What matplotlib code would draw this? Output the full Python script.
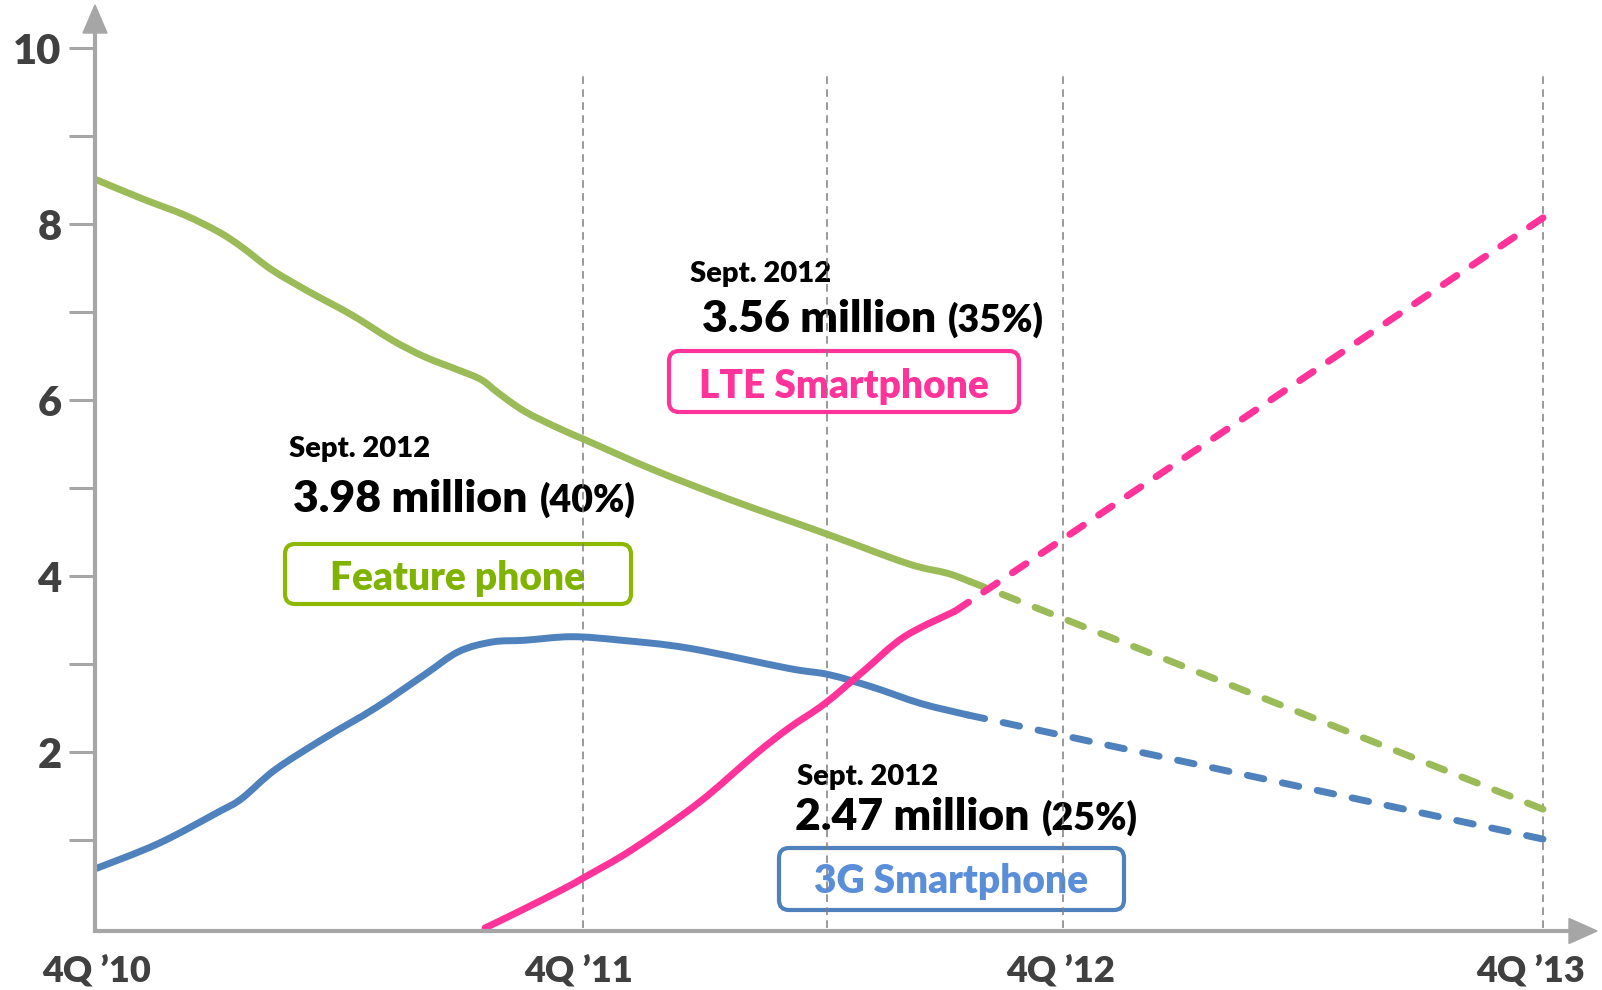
import matplotlib
matplotlib.use("Agg")
import numpy as np
import matplotlib.pyplot as plt
from matplotlib.patches import FancyBboxPatch, Polygon, PathPatch
from matplotlib.path import Path
from matplotlib.transforms import IdentityTransform, blended_transform_factory, offset_copy

plt.rcParams['font.family'] = ['Lato', 'DejaVu Sans']
plt.rcParams['font.weight'] = 'heavy'

# ---------------- data ----------------
quarter_ticks = [0, 4, 8, 12]
quarter_labels = ["4Q \u201910", "4Q \u201911", "4Q \u201912", "4Q \u201913"]
guide_quarters = [4.03, 6.06, 8.02, 12]

feature_x = [0.0, 0.37, 0.73, 1.01, 1.20, 1.45, 1.76, 2.11, 2.45, 2.72, 3.00, 3.19, 3.33,
             3.55, 3.83, 4.08, 4.63, 5.27, 6.07, 6.73, 7.06, 7.24]
feature_y = [8.50, 8.29, 8.10, 7.91, 7.74, 7.48, 7.23, 6.97, 6.68, 6.49, 6.34, 6.23, 6.08,
             5.87, 5.68, 5.53, 5.20, 4.86, 4.47, 4.14, 4.03, 3.94]
feature_fc_x = [7.24, 12]
feature_fc_y = [3.94, 1.35]

threeg_x = [0.0, 0.51, 1.01, 1.20, 1.48, 1.89, 2.31, 2.72, 3.00, 3.28, 3.55, 3.94, 4.35,
            4.91, 5.74, 6.07, 6.43, 6.84, 7.23]
threeg_y = [0.68, 0.96, 1.32, 1.47, 1.80, 2.16, 2.50, 2.88, 3.14, 3.25, 3.27, 3.31, 3.27,
            3.18, 2.95, 2.88, 2.74, 2.55, 2.42]
threeg_fc_x = [7.23, 12]
threeg_fc_y = [2.42, 1.01]

lte_x = [3.22, 3.52, 3.88, 4.05, 4.44, 4.99, 5.46, 5.74, 6.04, 6.37, 6.70, 7.12]
lte_y = [0.0, 0.20, 0.45, 0.58, 0.89, 1.42, 1.97, 2.27, 2.55, 2.93, 3.31, 3.60]
lte_fc_x = [7.12, 12]
lte_fc_y = [3.60, 8.07]

y_major = [2, 4, 6, 8, 10]
y_minor = [1, 3, 5, 7, 9]

GREEN = '#9bbb59'
BLUE = '#4f81bd'
PINK = '#ff3399'
AXC = '#a6a6a6'
TXT = '#404040'

W, H = 1602, 990
fig = plt.figure(figsize=(W / 100, H / 100), dpi=100)

# axes geometry (pixels of image)
AX_L = 95                 # y axis line
X0, Y0 = 97, 928          # data origin
QPX, UPX = 120.5, 88.0    # px per quarter, px per unit
XTIP, YTIP = 1597, 5
ax = fig.add_axes([AX_L / W, (H - Y0) / H, (XTIP - AX_L) / W, (Y0 - YTIP) / H])
xmin = (AX_L - X0) / QPX
xmax = (XTIP - X0) / QPX
ymax = (Y0 - YTIP) / UPX
ax.set_xlim(xmin, xmax)
ax.set_ylim(0, ymax)
for s in ax.spines.values():
    s.set_visible(False)

# axis lines with arrows
ya = -3 / UPX
xb = (1569 - X0) / QPX
yb = (Y0 - 33) / UPX
ax.plot([xmin, xb], [ya, ya], color=AXC, lw=3, solid_capstyle='butt', clip_on=False, zorder=5)
ax.plot([xmin, xmin], [ya - 1.5 / UPX, yb], color=AXC, lw=3, solid_capstyle='butt', clip_on=False, zorder=5)
ax.add_patch(Polygon([[xmax, ya], [xb, ya + 12.5 / UPX], [xb, ya - 12.5 / UPX]],
                     closed=True, color=AXC, clip_on=False, zorder=5))
ax.add_patch(Polygon([[xmin, ymax], [xmin - 12 / QPX, yb], [xmin + 12 / QPX, yb]],
                     closed=True, color=AXC, clip_on=False, zorder=5))

# y ticks
ax.set_yticks(y_major)
ax.set_yticklabels([str(v) for v in y_major])
ax.set_yticks(y_minor, minor=True)
ax.tick_params(axis='y', which='both', direction='out', length=19, width=2.2,
               color=AXC, labelsize=30, labelcolor=TXT, pad=5)
for lab in ax.get_yticklabels():
    lab.set_fontweight('heavy')

# x labels (drawn as text so the last one can sit inside the figure like the original)
ax.set_xticks([])
xlab_tr = blended_transform_factory(ax.transData, IdentityTransform())
for i, (q, lab) in enumerate(zip(quarter_ticks, quarter_labels)):
    dx = -12 if i == len(quarter_ticks) - 1 else 0
    tr = offset_copy(xlab_tr, fig=fig, x=dx, y=0, units='dots')
    ax.text(q, H - 982, lab, transform=tr, ha='center', va='baseline', fontsize=26,
            color=TXT, fontweight='heavy', clip_on=False)

# guide lines
ax.vlines(guide_quarters, 0, 9.68, colors='#7f7f7f', linestyles=(0, (5, 3.5)), lw=1.1, zorder=3)

# curves
LW = 5


def smooth_line(xs, ys, color):
    # smoothed line through the read points (cubic Bezier, Catmull-Rom tangents)
    P = np.column_stack([xs, ys]).astype(float)
    n = len(P)
    verts = [P[0]]
    codes = [Path.MOVETO]
    for i in range(n - 1):
        p0 = P[max(i - 1, 0)]
        p1 = P[i]
        p2 = P[i + 1]
        p3 = P[min(i + 2, n - 1)]
        c1 = p1 + (p2 - p0) / 6.0
        c2 = p2 - (p3 - p1) / 6.0
        verts += [c1, c2, p2]
        codes += [Path.CURVE4] * 3
    patch = PathPatch(Path(verts, codes), fill=False, ec=color, lw=LW,
                      capstyle='round', joinstyle='round', clip_on=False, zorder=4)
    ax.add_patch(patch)


def dashed(xs, ys, color, on=2.4, off=2.7):
    # fit the dash pattern so the forecast line both starts and ends on a dash
    p = ax.transData.transform(np.column_stack([xs, ys]))
    L = np.hypot(*(p[-1] - p[0])) * 72 / fig.dpi / LW
    n = max(1, round((L - on) / (on + off)))
    s = L / (n * (on + off) + on)
    ax.plot(xs, ys, color=color, lw=LW, dashes=(on * s, off * s), dash_capstyle='round',
            clip_on=False, zorder=4)


smooth_line(feature_x, feature_y, GREEN)
dashed(feature_fc_x, feature_fc_y, GREEN)
smooth_line(threeg_x, threeg_y, BLUE)
dashed(threeg_fc_x, threeg_fc_y, BLUE)
smooth_line(lte_x, lte_y, PINK)
dashed(lte_fc_x, lte_fc_y, PINK)

# annotations (pixel placement)
idt = IdentityTransform()
renderer = fig.canvas.get_renderer()


def ptext(x, y, s, **k):
    return ax.text(x, H - y, s, transform=idt, clip_on=False, zorder=2, fontweight='heavy', **k)


def value_label(x, y, big, small):
    t = ptext(x, y, big, fontsize=32, color='black', va='baseline', ha='left')
    bb = t.get_window_extent(renderer=renderer)
    ptext(bb.x1 + 12, y, small, fontsize=27, color='black', va='baseline', ha='left')


def box(x0, y0, x1, y1, ec, label, tc, base):
    p = FancyBboxPatch((x0 + 2, H - y1 + 2), (x1 - x0 - 4), (y1 - y0 - 4),
                       boxstyle='round,pad=0,rounding_size=10', transform=idt,
                       fill=False, ec=ec, lw=3, clip_on=False, zorder=2)
    ax.add_patch(p)
    ptext((x0 + x1) / 2, base, label, fontsize=28, color=tc, va='baseline', ha='center')


# Feature phone
ptext(289, 457, "Sept. 2012", fontsize=21, color='black', va='baseline')
value_label(293, 512, "3.98 million", "(40%)")
box(283, 542, 633, 606, '#8cb800', "Feature phone", '#7fb300', 590)

# LTE smartphone
ptext(690, 282, "Sept. 2012", fontsize=21, color='black', va='baseline')
value_label(702, 332, "3.56 million", "(35%)")
box(667, 349, 1021, 414, PINK, "LTE Smartphone", PINK, 398)

# 3G smartphone
ptext(797, 785, "Sept. 2012", fontsize=21, color='black', va='baseline')
value_label(795, 830, "2.47 million", "(25%)")
box(777, 846, 1126, 912, BLUE, "3G Smartphone", '#5a8ed8', 893)

fig.savefig("out.png", dpi=100)
